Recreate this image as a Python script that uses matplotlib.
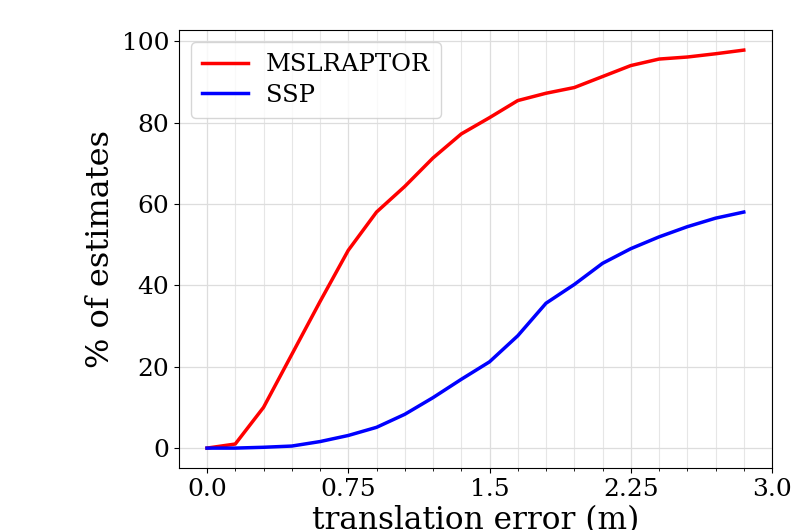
import matplotlib
matplotlib.use("Agg")
import matplotlib.pyplot as plt
import numpy as np

x_vals = [0.0, 0.15, 0.3, 0.45, 0.6, 0.75, 0.9, 1.05, 1.2, 1.35, 1.5, 1.65, 1.8, 1.95, 2.1, 2.25, 2.4, 2.55, 2.7, 2.85]
mslraptor = [0.0, 1.0, 10.0, 23.0, 36.0, 48.6, 58.0, 64.3, 71.3, 77.2, 81.2, 85.4, 87.2, 88.6, 91.3, 94.0, 95.6, 96.1, 96.9, 97.8]
ssp = [0.0, 0.0, 0.2, 0.5, 1.6, 3.1, 5.1, 8.3, 12.4, 16.9, 21.2, 27.6, 35.6, 40.2, 45.4, 49.0, 51.9, 54.4, 56.5, 58.0]
xticks = [0.0, 0.75, 1.5, 2.25, 3.0]
xticklabels = ["0.0", "0.75", "1.5", "2.25", "3.0"]

plt.rcParams['font.family'] = ['DejaVu Serif']

fig = plt.figure(figsize=(7.91, 5.30), dpi=100)
ax = fig.add_axes([0.226, 0.117, 0.75, 0.826])

ax.plot(x_vals, mslraptor, color='red', lw=2.5, label='MSLRAPTOR')
ax.plot(x_vals, ssp, color='blue', lw=2.5, label='SSP')

ax.set_xlim(-0.15, 3.0)
ax.set_xticks(xticks)
ax.set_xticklabels(xticklabels)
ax.set_xticks(np.arange(0, 3.0, 0.15), minor=True)
ax.set_yticks([0, 20, 40, 60, 80, 100])
ax.grid(True, which='major', color='#dddddd', lw=0.9)
ax.grid(True, which='minor', axis='x', color='#e6e6e6', lw=0.8)
ax.set_axisbelow(True)
ax.tick_params(axis='both', which='major', labelsize=18)
ax.tick_params(axis='x', which='minor', length=2)

ax.set_xlabel('translation error (m)', fontsize=22.5, labelpad=3)
ax.set_ylabel('% of estimates', fontsize=23, labelpad=4)

ax.legend(loc='upper left', fontsize=17.5, handlelength=1.9, borderpad=0.45,
          labelspacing=0.3, handletextpad=0.72)

fig.savefig('out.png', dpi=100)
